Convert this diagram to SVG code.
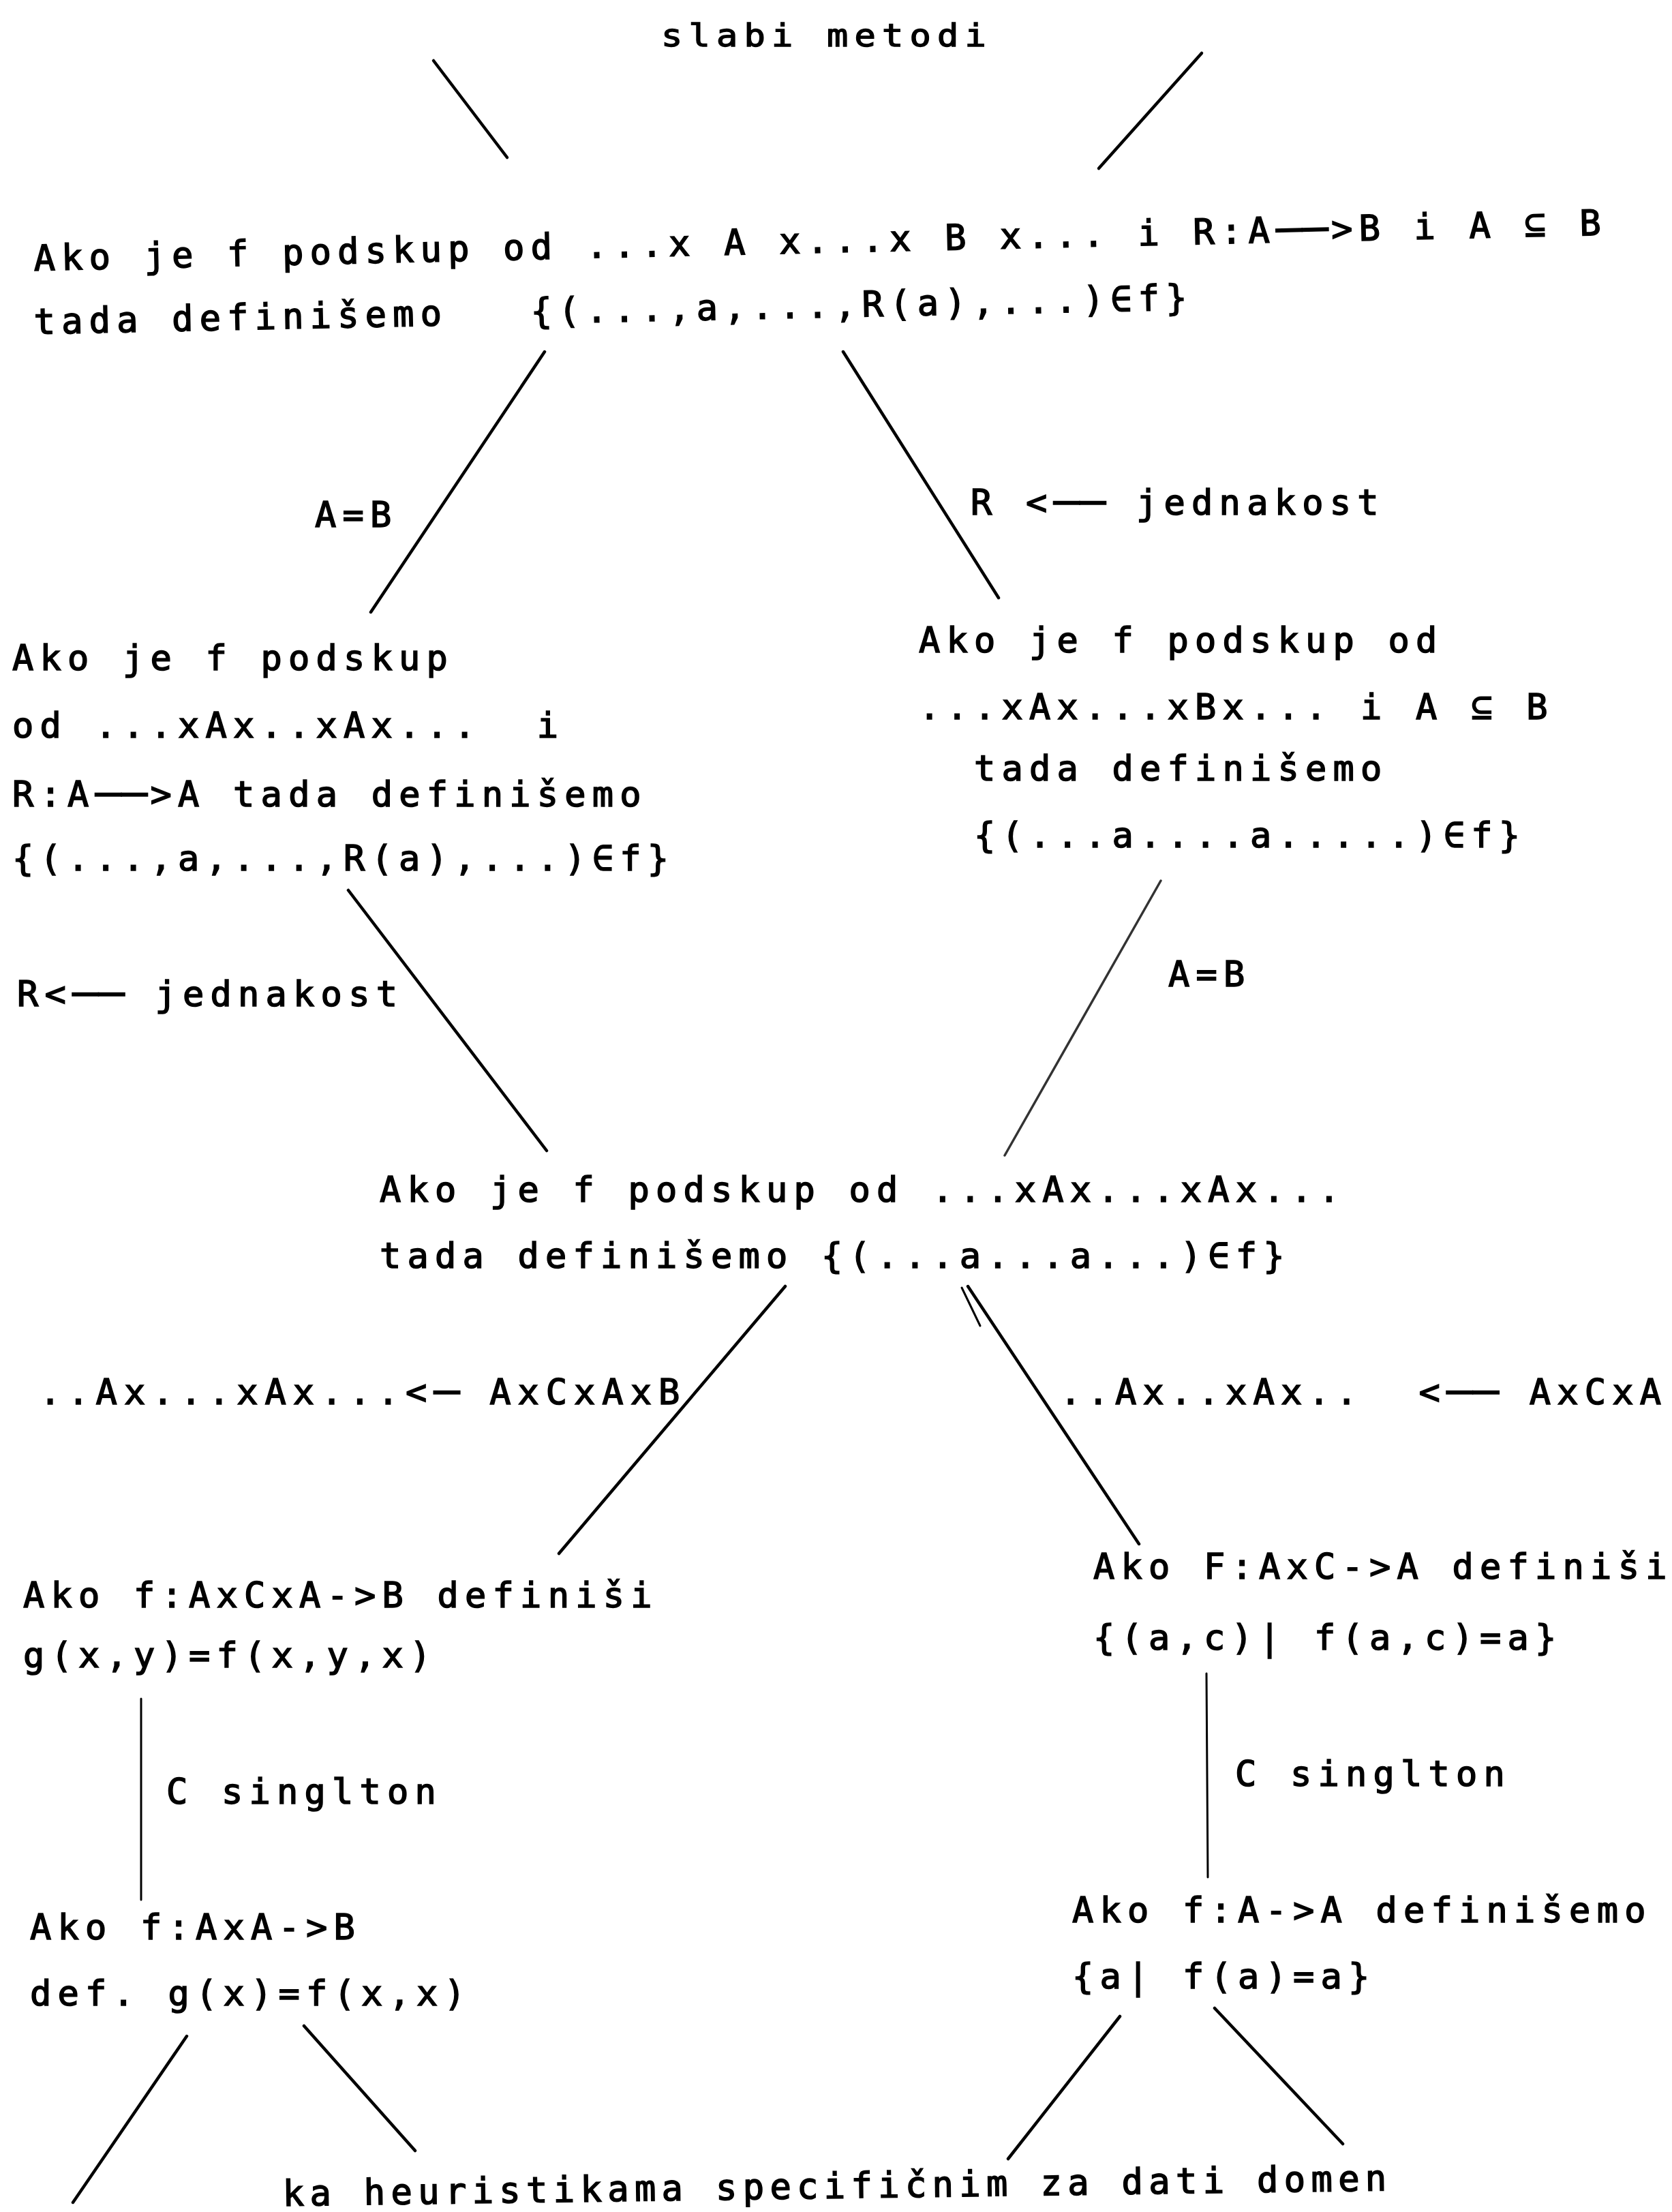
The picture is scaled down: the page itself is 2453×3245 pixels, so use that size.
<svg xmlns="http://www.w3.org/2000/svg" width="2453" height="3245" viewBox="0 0 2453 3245" xml:space="preserve">
<style>
.t { font-family: "DejaVu Sans Mono", "Liberation Mono", monospace; font-size: 52px; letter-spacing: 9.2px; fill: #000; stroke: #000; stroke-width: 1.6px; white-space: pre; }
.dw { font-size: 64px; letter-spacing: 0px; }
.dw2 { font-size: 64px; letter-spacing: 4px; }
.dw1 { font-size: 64px; letter-spacing: 2px; }
.ln { stroke: #000; stroke-width: 4.5; stroke-linecap: round; fill: none; }
.thin { stroke-width: 3; }
.faint { stroke: #333; stroke-width: 3.5; }
</style>
<rect width="2453" height="3245" fill="#fff"/>
<g id="connectors">
<line class="ln" x1="636" y1="89" x2="744" y2="231"/>
<line class="ln" x1="1763" y1="78" x2="1612" y2="247"/>
<line class="ln" x1="799" y1="516" x2="544" y2="898"/>
<line class="ln" x1="1237" y1="516" x2="1465" y2="877"/>
<line class="ln" x1="511" y1="1306" x2="802" y2="1688"/>
<line class="ln faint" x1="1703" y1="1292" x2="1474" y2="1695"/>
<line class="ln" x1="1152" y1="1887" x2="820" y2="2279"/>
<line class="ln" x1="1420" y1="1887" x2="1671" y2="2265"/>
<line class="ln thin" x1="1411" y1="1889" x2="1438" y2="1945"/>
<line class="ln thin" x1="207" y1="2492" x2="207" y2="2787"/>
<line class="ln thin" x1="1770" y1="2455" x2="1772" y2="2754"/>
<line class="ln" x1="274" y1="2987" x2="107" y2="3231"/>
<line class="ln" x1="446" y1="2972" x2="609" y2="3155"/>
<line class="ln" x1="1643" y1="2958" x2="1479" y2="3167"/>
<line class="ln" x1="1782" y1="2946" x2="1970" y2="3145"/>
</g>
<g id="edge-labels">
<text class="t" x="462" y="773">A=B</text>
<text class="t" x="1424" y="755">R &lt;<tspan class="dw">—</tspan><tspan class="dw2">—</tspan> jednakost</text>
<text class="t" x="25" y="1476">R&lt;<tspan class="dw">—</tspan><tspan class="dw2">—</tspan> jednakost</text>
<text class="t" x="1714" y="1447">A=B</text>
<text class="t" x="58" y="2060" style="letter-spacing: 10px">..Ax...xAx...&lt;<tspan class="dw1">—</tspan> AxCxAxB</text>
<text class="t" x="1555" y="2060">..Ax..xAx..  &lt;<tspan class="dw">—</tspan><tspan class="dw2">—</tspan> AxCxA</text>
<text class="t" x="244" y="2646">C singlton</text>
<text class="t" x="1812" y="2620">C singlton</text>
</g>
<g id="node-root">
<text class="t" transform="translate(970,68) scale(1,0.88)">slabi metodi</text>
</g>
<g id="node-general">
<text class="t" x="50" y="397" transform="rotate(-1.3 50 397)">Ako je f podskup od ...x A x...x B x... i R:A<tspan class="dw">—</tspan><tspan class="dw2">—</tspan>&gt;B i A ⊆ B</text>
<text class="t" x="50" y="490" transform="rotate(-1.2 50 490)">tada definišemo   {(...,a,...,R(a),...)∈f}</text>
</g>
<g id="node-same-set">
<text class="t" x="18" y="983">Ako je f podskup</text>
<text class="t" x="18" y="1082">od ...xAx..xAx...  i</text>
<text class="t" x="18" y="1183">R:A<tspan class="dw">—</tspan><tspan class="dw2">—</tspan>&gt;A tada definišemo</text>
<text class="t" x="18" y="1277">{(...,a,...,R(a),...)∈f}</text>
</g>
<g id="node-equality">
<text class="t" x="1348" y="957">Ako je f podskup od</text>
<text class="t" x="1348" y="1055">...xAx...xBx... i A ⊆ B</text>
<text class="t" x="1348" y="1145">  tada definišemo</text>
<text class="t" x="1348" y="1243">  {(...a....a.....)∈f}</text>
</g>
<g id="node-diagonal">
<text class="t" x="557" y="1763">Ako je f podskup od ...xAx...xAx...</text>
<text class="t" x="557" y="1860">tada definišemo {(...a...a...)∈f}</text>
</g>
<g id="node-two-args">
<text class="t" x="34" y="2358">Ako f:AxCxA-&gt;B definiši</text>
<text class="t" x="34" y="2446">g(x,y)=f(x,y,x)</text>
</g>
<g id="node-fixed-pairs">
<text class="t" x="1604" y="2316">Ako F:AxC-&gt;A definiši</text>
<text class="t" x="1604" y="2420">{(a,c)| f(a,c)=a}</text>
</g>
<g id="node-one-arg">
<text class="t" x="44" y="2845">Ako f:AxA-&gt;B</text>
<text class="t" x="44" y="2942">def. g(x)=f(x,x)</text>
</g>
<g id="node-fixed-points">
<text class="t" x="1573" y="2820">Ako f:A-&gt;A definišemo</text>
<text class="t" x="1573" y="2917">{a| f(a)=a}</text>
</g>
<g id="node-domain">
<text class="t" x="415" y="3236" style="letter-spacing: 8.4px" transform="rotate(-0.8 415 3236)">ka heuristikama specifičnim za dati domen</text>
</g>
</svg>
